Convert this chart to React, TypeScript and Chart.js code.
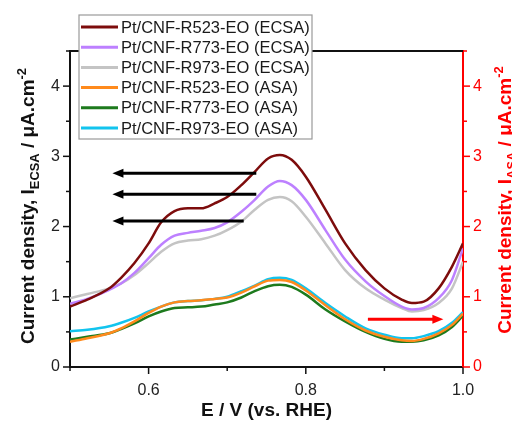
import React, { useEffect, useRef } from 'react';
import { Chart, registerables } from 'chart.js';

Chart.register(...registerables);

// ---- data ----
const potential = [0.5, 0.522, 0.55, 0.565, 0.582, 0.6, 0.616, 0.633, 0.65, 0.667, 0.684, 0.7, 0.718, 0.735, 0.752, 0.767, 0.782, 0.8, 0.825, 0.85, 0.876, 0.9, 0.922, 0.935, 0.95, 0.969, 0.986, 1.0];

const r523Ecsa = [0.86, 0.96, 1.12, 1.27, 1.48, 1.76, 2.06, 2.22, 2.26, 2.26, 2.33, 2.42, 2.59, 2.78, 2.97, 3.02, 2.95, 2.71, 2.24, 1.76, 1.38, 1.12, 0.96, 0.91, 0.93, 1.12, 1.43, 1.76];
const r773Ecsa = [0.90, 0.97, 1.10, 1.19, 1.34, 1.55, 1.74, 1.87, 1.91, 1.94, 1.98, 2.06, 2.21, 2.38, 2.57, 2.65, 2.59, 2.38, 1.95, 1.53, 1.22, 1.01, 0.86, 0.82, 0.84, 0.98, 1.24, 1.69];
const r973Ecsa = [0.98, 1.04, 1.12, 1.19, 1.31, 1.48, 1.64, 1.76, 1.80, 1.82, 1.87, 1.95, 2.07, 2.24, 2.38, 2.42, 2.36, 2.14, 1.76, 1.38, 1.12, 0.96, 0.84, 0.79, 0.81, 0.91, 1.12, 1.50];
const r523Asa = [0.36, 0.41, 0.48, 0.55, 0.65, 0.77, 0.86, 0.92, 0.94, 0.95, 0.97, 0.99, 1.06, 1.15, 1.23, 1.24, 1.21, 1.09, 0.88, 0.68, 0.52, 0.43, 0.38, 0.37, 0.40, 0.48, 0.60, 0.76];
const r773Asa = [0.39, 0.43, 0.48, 0.54, 0.62, 0.72, 0.79, 0.84, 0.85, 0.86, 0.89, 0.92, 0.99, 1.08, 1.15, 1.17, 1.14, 1.03, 0.82, 0.65, 0.50, 0.40, 0.36, 0.36, 0.38, 0.45, 0.57, 0.73];
const r973Asa = [0.51, 0.53, 0.58, 0.63, 0.70, 0.79, 0.86, 0.92, 0.94, 0.95, 0.97, 1.00, 1.08, 1.16, 1.25, 1.27, 1.24, 1.12, 0.91, 0.72, 0.55, 0.46, 0.41, 0.41, 0.44, 0.51, 0.63, 0.78];

const seriesLabels = [
  'Pt/CNF-R523-EO (ECSA)',
  'Pt/CNF-R773-EO (ECSA)',
  'Pt/CNF-R973-EO (ECSA)',
  'Pt/CNF-R523-EO (ASA)',
  'Pt/CNF-R773-EO (ASA)',
  'Pt/CNF-R973-EO (ASA)',
];
const seriesValues = [r523Ecsa, r773Ecsa, r973Ecsa, r523Asa, r773Asa, r973Asa];
const seriesAxis = ['y', 'y', 'y', 'y2', 'y2', 'y2'];
const seriesColors = ['#7d0c0c', '#bd80ff', '#c4c4c4', '#ff8a1c', '#1d7a1d', '#12c4ee'];

const xMin = 0.5;
const xMax = 1.0;
const xStep = 0.1;
const yMin = 0;
const yMax = 4.5;
const yStep = 0.5;

// arrows (data coordinates)
const blackArrowFromX = [0.737, 0.737, 0.721];
const blackArrowToX = [0.554, 0.554, 0.554];
const blackArrowY = [2.76, 2.46, 2.08];
const redArrowFromX = 0.879;
const redArrowToX = 0.975;
const redArrowY = 0.68;

const FONT = "'Liberation Sans', Arial, Helvetica, sans-serif";
const RED = '#ff0000';

type Part = { t: string; s?: 'sub' | 'sup' };

function drawRich(ctx: CanvasRenderingContext2D, parts: Part[], size: number, color: string) {
  const widths = parts.map((p) => {
    const fs = p.s ? size * 0.68 : size;
    ctx.font = `bold ${fs}px ${FONT}`;
    return ctx.measureText(p.t).width;
  });
  const total = widths.reduce((a, b) => a + b, 0);
  let x = -total / 2;
  ctx.fillStyle = color;
  ctx.textBaseline = 'alphabetic';
  ctx.textAlign = 'left';
  parts.forEach((p, i) => {
    const fs = p.s ? size * 0.68 : size;
    ctx.font = `bold ${fs}px ${FONT}`;
    const dy = p.s === 'sub' ? size * 0.25 : p.s === 'sup' ? -size * 0.42 : 0;
    ctx.fillText(p.t, x, dy);
    x += widths[i];
  });
}

function arrow(ctx: CanvasRenderingContext2D, x1: number, x2: number, y: number, color: string) {
  const dir = x2 > x1 ? 1 : -1;
  const headLen = 11;
  const headHalf = 4.5;
  ctx.strokeStyle = color;
  ctx.fillStyle = color;
  ctx.lineWidth = 3;
  ctx.beginPath();
  ctx.moveTo(x1, y);
  ctx.lineTo(x2 - dir * headLen * 0.8, y);
  ctx.stroke();
  ctx.beginPath();
  ctx.moveTo(x2, y);
  ctx.lineTo(x2 - dir * headLen, y - headHalf);
  ctx.lineTo(x2 - dir * headLen, y + headHalf);
  ctx.closePath();
  ctx.fill();
}

const decorPlugin = {
  id: 'decor',
  afterDraw(chart: any) {
    const ctx: CanvasRenderingContext2D = chart.ctx;
    const { left, right, top, bottom } = chart.chartArea;
    const xs = chart.scales.x;
    const ys = chart.scales.y;
    const ys2 = chart.scales.y2;
    ctx.save();

    // top spine
    ctx.strokeStyle = '#111';
    ctx.lineWidth = 2;
    ctx.beginPath();
    ctx.moveTo(left - 1, top);
    ctx.lineTo(right, top);
    ctx.stroke();

    // tick marks
    ctx.lineWidth = 1.5;
    xs.ticks.forEach((t: any) => {
      const v = Math.round(t.value * 10);
      const px = xs.getPixelForValue(t.value);
      const len = v % 2 === 0 ? 7 : 4;
      ctx.strokeStyle = '#111';
      ctx.beginPath();
      ctx.moveTo(px, bottom);
      ctx.lineTo(px, bottom + len);
      ctx.stroke();
    });
    ys.ticks.forEach((t: any) => {
      const v = Math.round(t.value * 2);
      const py = ys.getPixelForValue(t.value);
      const len = v % 2 === 0 ? 7 : 4;
      ctx.strokeStyle = '#111';
      ctx.beginPath();
      ctx.moveTo(left, py);
      ctx.lineTo(left - len, py);
      ctx.stroke();
    });
    ys2.ticks.forEach((t: any) => {
      const v = Math.round(t.value * 2);
      const py = ys2.getPixelForValue(t.value);
      const len = v % 2 === 0 ? 7 : 4;
      ctx.strokeStyle = RED;
      ctx.beginPath();
      ctx.moveTo(right, py);
      ctx.lineTo(right + len, py);
      ctx.stroke();
    });

    // arrows
    blackArrowY.forEach((yv, i) => {
      arrow(ctx, xs.getPixelForValue(blackArrowFromX[i]), xs.getPixelForValue(blackArrowToX[i]), ys.getPixelForValue(yv), '#000');
    });
    arrow(ctx, xs.getPixelForValue(redArrowFromX), xs.getPixelForValue(redArrowToX), ys2.getPixelForValue(redArrowY), RED);

    // legend
    const lx = 79, ly = 15, lw = 233, lh = 124;
    ctx.fillStyle = '#fff';
    ctx.fillRect(lx, ly, lw, lh);
    ctx.strokeStyle = '#9a9a9a';
    ctx.lineWidth = 1.2;
    ctx.strokeRect(lx, ly, lw, lh);
    ctx.font = `16.5px ${FONT}`;
    ctx.textBaseline = 'middle';
    ctx.textAlign = 'left';
    seriesLabels.forEach((lab, i) => {
      const cy = 27 + i * 20.2;
      ctx.strokeStyle = seriesColors[i];
      ctx.lineWidth = 3;
      ctx.beginPath();
      ctx.moveTo(81, cy);
      ctx.lineTo(118, cy);
      ctx.stroke();
      ctx.fillStyle = '#1a1a1a';
      ctx.fillText(lab, 121, cy + 1);
    });

    // axis titles
    ctx.save();
    ctx.translate(34, 206);
    ctx.rotate(-Math.PI / 2);
    drawRich(ctx, [
      { t: 'Current density, I' },
      { t: 'ECSA', s: 'sub' },
      { t: ' / \u03bcA.cm' },
      { t: '-2', s: 'sup' },
    ], 19, '#111');
    ctx.restore();

    ctx.save();
    ctx.translate(511, 200);
    ctx.rotate(-Math.PI / 2);
    drawRich(ctx, [
      { t: 'Current density, I' },
      { t: 'ASA', s: 'sub' },
      { t: ' / \u03bcA.cm' },
      { t: '-2', s: 'sup' },
    ], 19, RED);
    ctx.restore();

    ctx.save();
    ctx.translate((left + right) / 2, 416);
    drawRich(ctx, [{ t: 'E / V (vs. RHE)' }], 19, '#111');
    ctx.restore();

    ctx.restore();
  },
};

export default function App() {
  const ref = useRef<HTMLCanvasElement>(null);

  useEffect(() => {
    if (!ref.current) return;
    const datasets = seriesValues.map((vals, i) => ({
      label: seriesLabels[i],
      data: potential.map((x, j) => ({ x, y: vals[j] })),
      yAxisID: seriesAxis[i],
      borderColor: seriesColors[i],
      backgroundColor: seriesColors[i],
      borderWidth: 2.5,
      pointRadius: 0,
      showLine: true,
      fill: false,
      cubicInterpolationMode: 'monotone' as const,
    }));
    const chart = new Chart(ref.current, {
      type: 'scatter',
      data: { datasets },
      options: {
        responsive: false,
        animation: false,
        devicePixelRatio: 1,
        layout: { padding: { top: 51, left: 0, right: 0, bottom: 0 } },
        plugins: { legend: { display: false }, tooltip: { enabled: false } },
        scales: {
          x: {
            type: 'linear',
            min: xMin,
            max: xMax,
            afterFit: (s: any) => { s.height = 56; },
            grid: { display: false, drawTicks: true, tickLength: 7 },
            border: { display: true, color: '#111', width: 2 },
            ticks: {
              stepSize: xStep,
              padding: 7,
              color: '#222',
              font: { family: FONT, size: 16 },
              maxRotation: 0,
              autoSkip: false,
              callback: (v: any) => {
                const n = Math.round(Number(v) * 10);
                return n % 2 === 0 ? (n / 10).toFixed(1) : '';
              },
            },
          },
          y: {
            type: 'linear',
            position: 'left',
            min: yMin,
            max: yMax,
            afterFit: (s: any) => { s.width = 70; },
            grid: { display: false, drawTicks: true, tickLength: 7 },
            border: { display: true, color: '#111', width: 2 },
            ticks: {
              stepSize: yStep,
              padding: 3,
              color: '#222',
              font: { family: FONT, size: 16 },
              autoSkip: false,
              callback: (v: any) => {
                const n = Math.round(Number(v) * 2);
                return n % 2 === 0 ? String(n / 2) : '';
              },
            },
          },
          y2: {
            type: 'linear',
            position: 'right',
            min: yMin,
            max: yMax,
            afterFit: (s: any) => { s.width = 49; },
            grid: { display: false, drawTicks: true, tickLength: 7 },
            border: { display: true, color: RED, width: 2 },
            ticks: {
              stepSize: yStep,
              padding: 3,
              color: RED,
              font: { family: FONT, size: 16 },
              autoSkip: false,
              callback: (v: any) => {
                const n = Math.round(Number(v) * 2);
                return n % 2 === 0 ? String(n / 2) : '';
              },
            },
          },
        },
      },
      plugins: [decorPlugin],
    });
    return () => chart.destroy();
  }, []);

  return (
    <div style={{ position: 'fixed', left: 0, top: 0, width: 512, height: 423, background: '#fff' }}>
      <canvas ref={ref} width={512} height={423} style={{ display: 'block' }} />
    </div>
  );
}
